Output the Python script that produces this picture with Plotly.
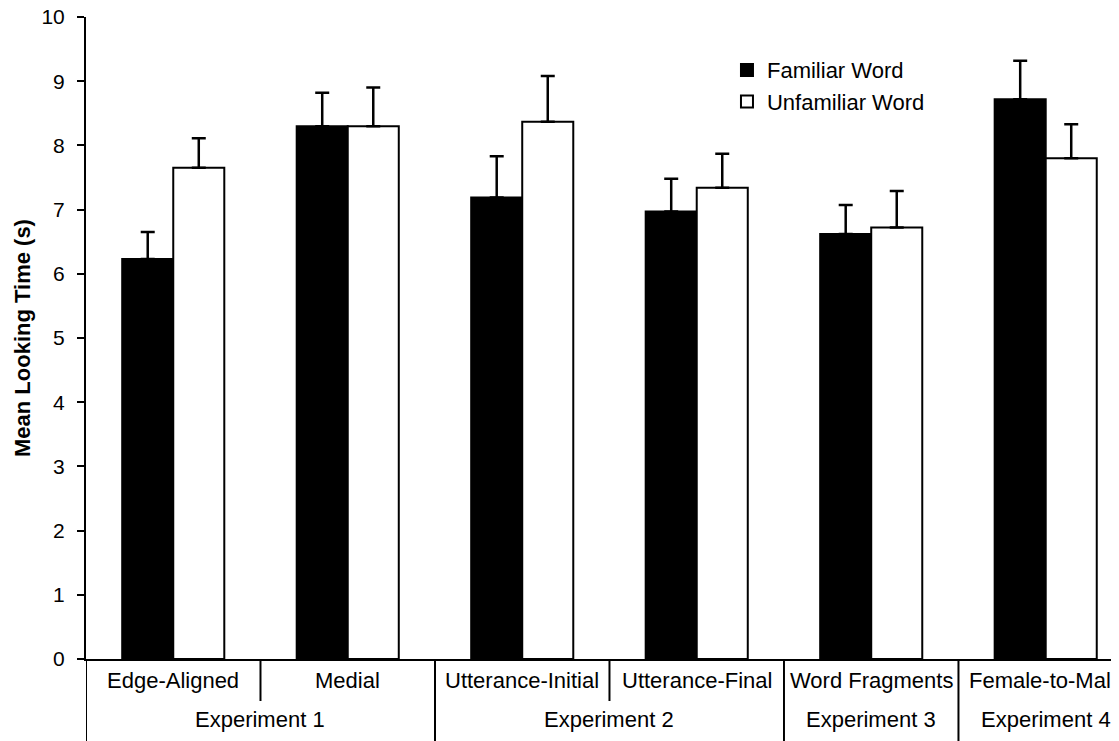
import plotly.graph_objects as go

categories = ["Edge-Aligned", "Medial", "Utterance-Initial", "Utterance-Final",
              "Word Fragments", "Female-to-Male"]
experiment_names = ["Experiment 1", "Experiment 2", "Experiment 3", "Experiment 4"]
experiment_of_category = [0, 0, 1, 1, 2, 3]

familiar = [6.23, 8.30, 7.19, 6.97, 6.62, 8.72]
familiar_se = [0.42, 0.52, 0.64, 0.51, 0.45, 0.60]
unfamiliar = [7.65, 8.30, 8.37, 7.34, 6.72, 7.80]
unfamiliar_se = [0.46, 0.60, 0.71, 0.53, 0.57, 0.53]

y_ticks = [0, 1, 2, 3, 4, 5, 6, 7, 8, 9, 10]

FONT = "Liberation Sans, Arial, sans-serif"
x_idx = list(range(len(categories)))

fig = go.Figure()
fig.add_trace(go.Bar(
    name="Familiar Word", x=x_idx, y=familiar,
    marker=dict(color="black", line=dict(color="black", width=2)),
    error_y=dict(type="data", array=familiar_se, arrayminus=[0] * len(familiar_se),
                 symmetric=False, color="black", thickness=2.5, width=7),
))
fig.add_trace(go.Bar(
    name="Unfamiliar Word", x=x_idx, y=unfamiliar,
    marker=dict(color="white", line=dict(color="black", width=2)),
    error_y=dict(type="data", array=unfamiliar_se, arrayminus=[0] * len(unfamiliar_se),
                 symmetric=False, color="black", thickness=2.5, width=7),
))

H_PLOT = 642.0
W_PLOT = 1033.0
def py(px):
    return -px / H_PLOT

annotations = []
shapes = []
for i, c in enumerate(categories):
    annotations.append(dict(x=i, y=py(21), xref="x", yref="paper", text=c,
                            showarrow=False, yanchor="middle", xanchor="center",
                            font=dict(size=22, color="black", family=FONT)))
for e, name in enumerate(experiment_names):
    idx = [i for i, ex in enumerate(experiment_of_category) if ex == e]
    cx = (min(idx) + max(idx)) / 2
    annotations.append(dict(x=cx, y=py(60), xref="x", yref="paper", text=name,
                            showarrow=False, yanchor="middle", xanchor="center",
                            font=dict(size=22, color="black", family=FONT)))

# y axis title
annotations.append(dict(x=-64 / W_PLOT, y=0.5, xref="paper", yref="paper",
                        text="<b>Mean Looking Time (s)</b>", textangle=-90,
                        showarrow=False, xanchor="center", yanchor="middle",
                        font=dict(size=22, color="black", family=FONT)))

# dividers of the two-level category axis
for i in range(len(categories)):
    left = i - 0.5
    if i == 0 or experiment_of_category[i] != experiment_of_category[i - 1]:
        y1 = py(84)
    else:
        y1 = py(42)
    shapes.append(dict(type="line", xref="x", yref="paper", x0=left, x1=left,
                       y0=0, y1=y1, line=dict(color="black", width=2)))

fig.update_layout(
    width=1111, height=733,
    margin=dict(l=78, r=0, t=9, b=82, autoexpand=False),
    paper_bgcolor="white", plot_bgcolor="white",
    barmode="group", bargap=0.415, bargroupgap=0,
    font=dict(family=FONT, color="black", size=22),
    showlegend=True,
    legend=dict(x=0.6205, y=0.95, xanchor="left", yanchor="top",
                font=dict(size=22, color="black", family=FONT),
                bgcolor="rgba(0,0,0,0)", tracegroupgap=0),
    xaxis=dict(range=[-0.5, 5.42], showticklabels=False, ticks="",
               showline=True, linecolor="black", linewidth=2,
               showgrid=False, zeroline=False, automargin=False),
    yaxis=dict(range=[0, 10], tickvals=y_ticks, ticks="outside", ticklen=7,
               tickwidth=2, tickcolor="black", showline=True, linecolor="black",
               linewidth=2, showgrid=False, zeroline=False, automargin=False,
               tickfont=dict(size=21, color="black", family=FONT),
               ticklabelstandoff=8, ticklabeloverflow="allow"),
    annotations=annotations, shapes=shapes,
)

fig.write_html("out.html")
